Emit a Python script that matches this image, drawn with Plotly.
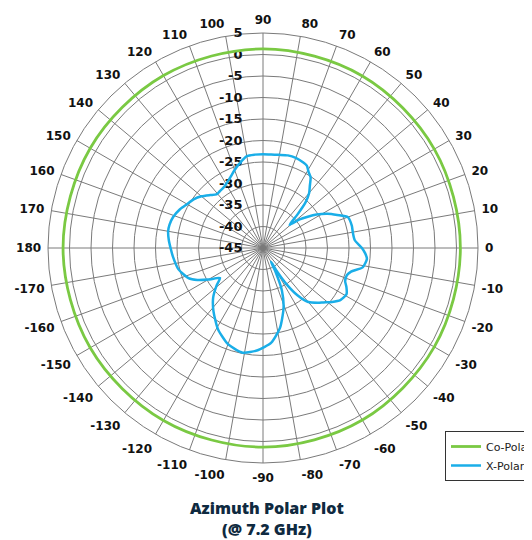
import plotly.graph_objects as go

# ---- data ----
xpol_theta = [-180, -174, -166, -158, -154, -150, -145, -141, -135, -128, -119, -110,
              -101, -93, -85, -78, -71, -66, -62, -60, -59, -57, -54, -50, -45, -42,
              -38, -34, -29, -25, -22, -18, -15, -11, -6, -3, 0, 5, 10, 14, 20, 24,
              28, 32, 35, 38, 41, 44, 47, 50, 53, 56, 59, 62, 65, 70, 75, 80, 85, 90,
              95, 100, 106, 110, 114, 118, 123, 127, 131, 135, 140, 145, 150, 155,
              161, 166, 170, 175, 180]
xpol_db = [-23.5, -24.0, -24.7, -26.3, -28.0, -30.3, -32.8, -31.1, -28.6, -26.3, -23.4, -21.2,
           -20.2, -21.2, -22.9, -26.0, -30.3, -34.2, -39.0, -41.3, -38.5, -35.0, -31.5, -28.6,
           -27.0, -26.1, -24.6, -23.3, -22.8, -23.6, -24.4, -24.5, -23.8, -21.4, -20.7, -21.2,
           -22.0, -23.6, -23.8, -23.7, -24.0, -26.1, -28.0, -30.3, -32.3, -34.2, -36.8, -34.0,
           -30.5, -28.3, -26.9, -25.2, -24.4, -23.3, -23.0, -22.7, -22.7, -23.0, -23.2, -23.2,
           -23.2, -23.3, -24.7, -25.7, -26.7, -27.5, -28.2, -28.4, -28.5, -27.6, -26.3, -25.3,
           -24.6, -23.7, -22.9, -22.6, -22.6, -23.0, -23.5]

copol_theta = [0, 30, 60, 90, 120, 150, 180, 210, 240, 270, 300, 330, 360]
copol_db = [0.9, 1.0, 1.2, 1.3, 1.3, 1.4, 1.5, 1.4, 1.3, 1.3, 1.2, 1.0, 0.9]

angle_ticks = list(range(0, 360, 10))
angle_labels = [str(a) if a <= 180 else str(a - 360) for a in angle_ticks]
radial_ticks = list(range(-45, 10, 5))
radial_labels = [str(v) for v in radial_ticks]

GREEN = "#7ac943"
BLUE = "#1aaee8"
GRID = "#7a7a7a"

# page body has an 8px default margin: shift the layout up/left to compensate
OFF = 8
W, H = 532, 540

fig = go.Figure()
fig.add_trace(go.Scatterpolar(
    r=copol_db, theta=copol_theta, mode="lines", name="Co-Polar",
    line=dict(color=GREEN, width=2.8, shape="spline", smoothing=1.0)))
fig.add_trace(go.Scatterpolar(
    r=xpol_db, theta=xpol_theta, mode="lines", name="X-Polar",
    line=dict(color=BLUE, width=2.5, shape="spline", smoothing=0.6)))

tickfont = dict(family="DejaVu Sans", size=12, color="#111111", weight="bold")
rtickfont = dict(family="DejaVu Sans", size=13, color="#111111", weight="bold")
pad = "\u00a0" * 4

fig.update_layout(
    width=W, height=H,
    margin=dict(l=0, r=0, t=0, b=0, autoexpand=False),
    paper_bgcolor="white", plot_bgcolor="white",
    polar=dict(
        domain=dict(x=[(48 - OFF) / W, (478 - OFF) / W],
                    y=[(H - 463 + OFF) / H, (H - 33 + OFF) / H]),
        bgcolor="white",
        radialaxis=dict(
            range=[-45, 5], tickmode="array", tickvals=radial_ticks,
            ticktext=[t + pad for t in radial_labels],
            angle=90, tickangle=90, side="counterclockwise", showline=False,
            gridcolor=GRID, gridwidth=1, ticks="", tickfont=rtickfont,
            layer="below traces"),
        angularaxis=dict(
            rotation=0, direction="counterclockwise", tickmode="array",
            tickvals=angle_ticks, ticktext=angle_labels,
            gridcolor=GRID, gridwidth=1, linecolor=GRID, linewidth=1,
            ticks="outside", ticklen=4, tickcolor="rgba(0,0,0,0)",
            tickfont=tickfont, layer="below traces"),
    ),
    legend=dict(
        x=(445 - OFF) / W, y=(H - 431 + OFF) / H, xanchor="left", yanchor="top",
        bordercolor="#333333", borderwidth=1, bgcolor="white",
        font=dict(family="DejaVu Sans", size=11, color="#222222"),
        tracegroupgap=5),
    showlegend=True,
    annotations=[dict(
        text="Azimuth Polar Plot<br>(@ 7.2 GHz)", x=(267 - OFF) / W, y=(H - 518 + OFF) / H,
        xref="paper", yref="paper", xanchor="center", yanchor="middle", showarrow=False,
        font=dict(family="Open Sans", size=16, color="#0f2a40", weight=800))],
)

fig.write_html("out.html")
